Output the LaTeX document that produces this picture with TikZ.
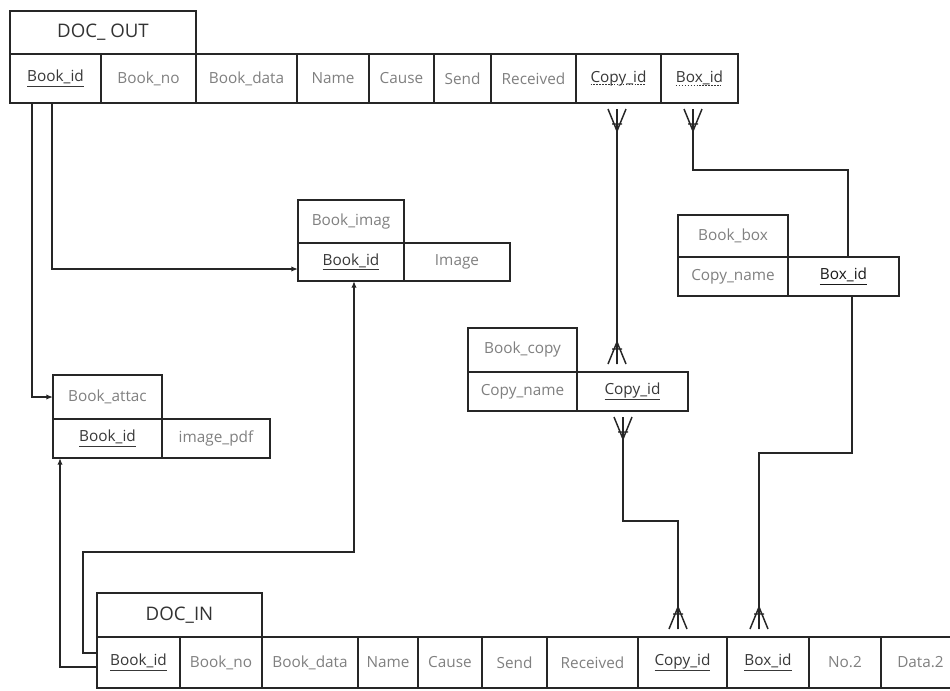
\documentclass[tikz,border=0pt]{standalone}
\usepackage{fontspec}
\setmainfont{Open Sans}
\usetikzlibrary{calc,arrows.meta}
\def\px{*0.75pt}
\newcommand\dotul[1]{\setbox0=\hbox{#1}\leavevmode\rlap{\copy0}\raisebox{-2.2pt}{\hbox to \wd0{\leaders\hbox to 2.2pt{\vrule width 1.1pt height 0.7pt\hss}\hfill}}}
\tikzset{
  cell/.style={rectangle,draw=black!85,line width=1.2pt,inner sep=0pt,outer sep=0pt,
    font=\fontsize{11.5}{13}\selectfont,text=black!50},
  keytxt/.style={text=black!78},
  titlecell/.style={cell,font=\fontsize{14}{16}\selectfont,text=black!80},
  conn/.style={draw=black!85,line width=1.1pt},
  arr/.style={conn,-{Latex[length=5pt,width=4pt]}},
  crow/.pic={\draw[conn] (-9,0) -- (0,22) -- (9,0) (0,0) -- (0,22) (-5,15) -- (5,15);}
}
\begin{document}
\begin{tikzpicture}[x=0.75pt,y=-0.75pt]
\useasboundingbox (0,0) rectangle (950,690);
\clip (0,0) rectangle (950,690);
\fill[white] (0,0) rectangle (950,690);

% DOC_OUT
\node[titlecell,minimum width=186\px,minimum height=43\px] (dout) at (103,32.5) {DOC\_ OUT};
\node[cell,keytxt,minimum width=91\px,minimum height=49\px] (o1) at (55.5,78.5) {\underline{Book\_id}};
\node[cell,minimum width=95\px,minimum height=49\px] (o2) at (148.5,78.5) {Book\_no};
\node[cell,minimum width=101\px,minimum height=49\px] (o3) at (246.5,78.5) {Book\_data};
\node[cell,minimum width=72\px,minimum height=49\px] (o4) at (333,78.5) {Name};
\node[cell,minimum width=65\px,minimum height=49\px] (o5) at (401.5,78.5) {Cause};
\node[cell,minimum width=57\px,minimum height=49\px] (o6) at (462.5,78.5) {Send};
\node[cell,minimum width=85\px,minimum height=49\px] (o7) at (533.5,78.5) {Received};
\node[cell,keytxt,minimum width=85\px,minimum height=49\px] (o8) at (618.5,78.5) {\dotul{Copy\_id}};
\node[cell,keytxt,minimum width=77\px,minimum height=49\px] (o9) at (699.5,78.5) {\dotul{Box\_id}};

% Book_imag
\node[cell,minimum width=106\px,minimum height=43\px] (mtit) at (351,221.5) {Book\_imag};
\node[cell,keytxt,minimum width=106\px,minimum height=38\px] (m1) at (351,262) {\underline{Book\_id}};
\node[cell,minimum width=106\px,minimum height=38\px] (m2) at (457,262) {Image};

% Book_attac
\node[cell,minimum width=109\px,minimum height=44\px] (atit) at (107.5,397) {Book\_attac};
\node[cell,keytxt,minimum width=109\px,minimum height=39\px] (a1) at (107.5,438.5) {\underline{Book\_id}};
\node[cell,minimum width=108\px,minimum height=39\px] (a2) at (216,438.5) {image\_pdf};

% Book_copy
\node[cell,minimum width=109\px,minimum height=44\px] (ctit) at (522.5,350) {Book\_copy};
\node[cell,minimum width=109\px,minimum height=39\px] (c1) at (522.5,391.5) {Copy\_name};
\node[cell,keytxt,minimum width=111\px,minimum height=39\px] (c2) at (632.5,391.5) {\underline{Copy\_id}};

% Book_box
\node[cell,minimum width=110\px,minimum height=42\px] (btit) at (733,236) {Book\_box};
\node[cell,minimum width=110\px,minimum height=39\px] (b1) at (733,276.5) {Copy\_name};
\node[cell,text=black!90,minimum width=111\px,minimum height=39\px] (b2) at (843.5,276.5) {\underline{Box\_id}};

% DOC_IN
\node[titlecell,minimum width=165\px,minimum height=44\px] (din) at (179.5,615) {DOC\_IN};
\node[cell,keytxt,minimum width=83\px,minimum height=51\px] (n1) at (138.5,662.5) {\underline{Book\_id}};
\node[cell,minimum width=82\px,minimum height=51\px] (n2) at (221,662.5) {Book\_no};
\node[cell,minimum width=96\px,minimum height=51\px] (n3) at (310,662.5) {Book\_data};
\node[cell,minimum width=60\px,minimum height=51\px] (n4) at (388,662.5) {Name};
\node[cell,minimum width=64\px,minimum height=51\px] (n5) at (450,662.5) {Cause};
\node[cell,minimum width=65\px,minimum height=51\px] (n6) at (514.5,662.5) {Send};
\node[cell,minimum width=91\px,minimum height=51\px] (n7) at (592.5,662.5) {Received};
\node[cell,keytxt,minimum width=89\px,minimum height=51\px] (n8) at (682.5,662.5) {\underline{Copy\_id}};
\node[cell,keytxt,minimum width=82\px,minimum height=51\px] (n9) at (768,662.5) {\underline{Box\_id}};
\node[cell,minimum width=72\px,minimum height=51\px] (n10) at (845,662.5) {No.2};
\node[cell,minimum width=79\px,minimum height=51\px] (n11) at (920.5,662.5) {Data.2};

% bend and crow's-foot coordinates
\coordinate (P1) at ([xshift=-1.5\px,yshift=-6\px]o8.south);
\coordinate (P2) at ([xshift=-15.5\px,yshift=8\px]c2.north);
\coordinate (P3) at ([xshift=-9.5\px,yshift=-6\px]c2.south);
\coordinate (P4) at ([xshift=-4.5\px,yshift=8\px]n8.north);
\coordinate (P5) at ([xshift=-6.5\px,yshift=-6\px]o9.south);
\coordinate (P6) at ([xshift=-9\px,yshift=8\px]n9.north);
\coordinate (j1) at (83,552);
\coordinate (j2) at (678,521);
\coordinate (j3) at (848,170);
\coordinate (j4) at (759,453);

% arrows
\draw[arr] ([xshift=-3.5\px]o1.south) |- ([yshift=-7\px]m1.west);
\draw[arr] ([xshift=-23.5\px]o1.south) |- (atit.west);
\draw[arr] ([yshift=9.5\px]n1.west) -| (j1) -| ([xshift=3\px]m1.south);
\draw[arr] ([yshift=-4.5\px]n1.west) -| ([xshift=-47.5\px]a1.south);

% crow's-foot relations
\draw[conn] (P1) -- (P2);
\draw[conn] (P3) |- (j2) -- (P4);
\draw[conn] (P5) |- (j3) -- ([xshift=4.5\px]b2.north);
\draw[conn] ([xshift=8.5\px]b2.south) |- (j4) -- (P6);
\pic at (P1) {crow};
\pic[rotate=180] at (P2) {crow};
\pic at (P3) {crow};
\pic[rotate=180] at (P4) {crow};
\pic at (P5) {crow};
\pic[rotate=180] at (P6) {crow};
\end{tikzpicture}
\end{document}
